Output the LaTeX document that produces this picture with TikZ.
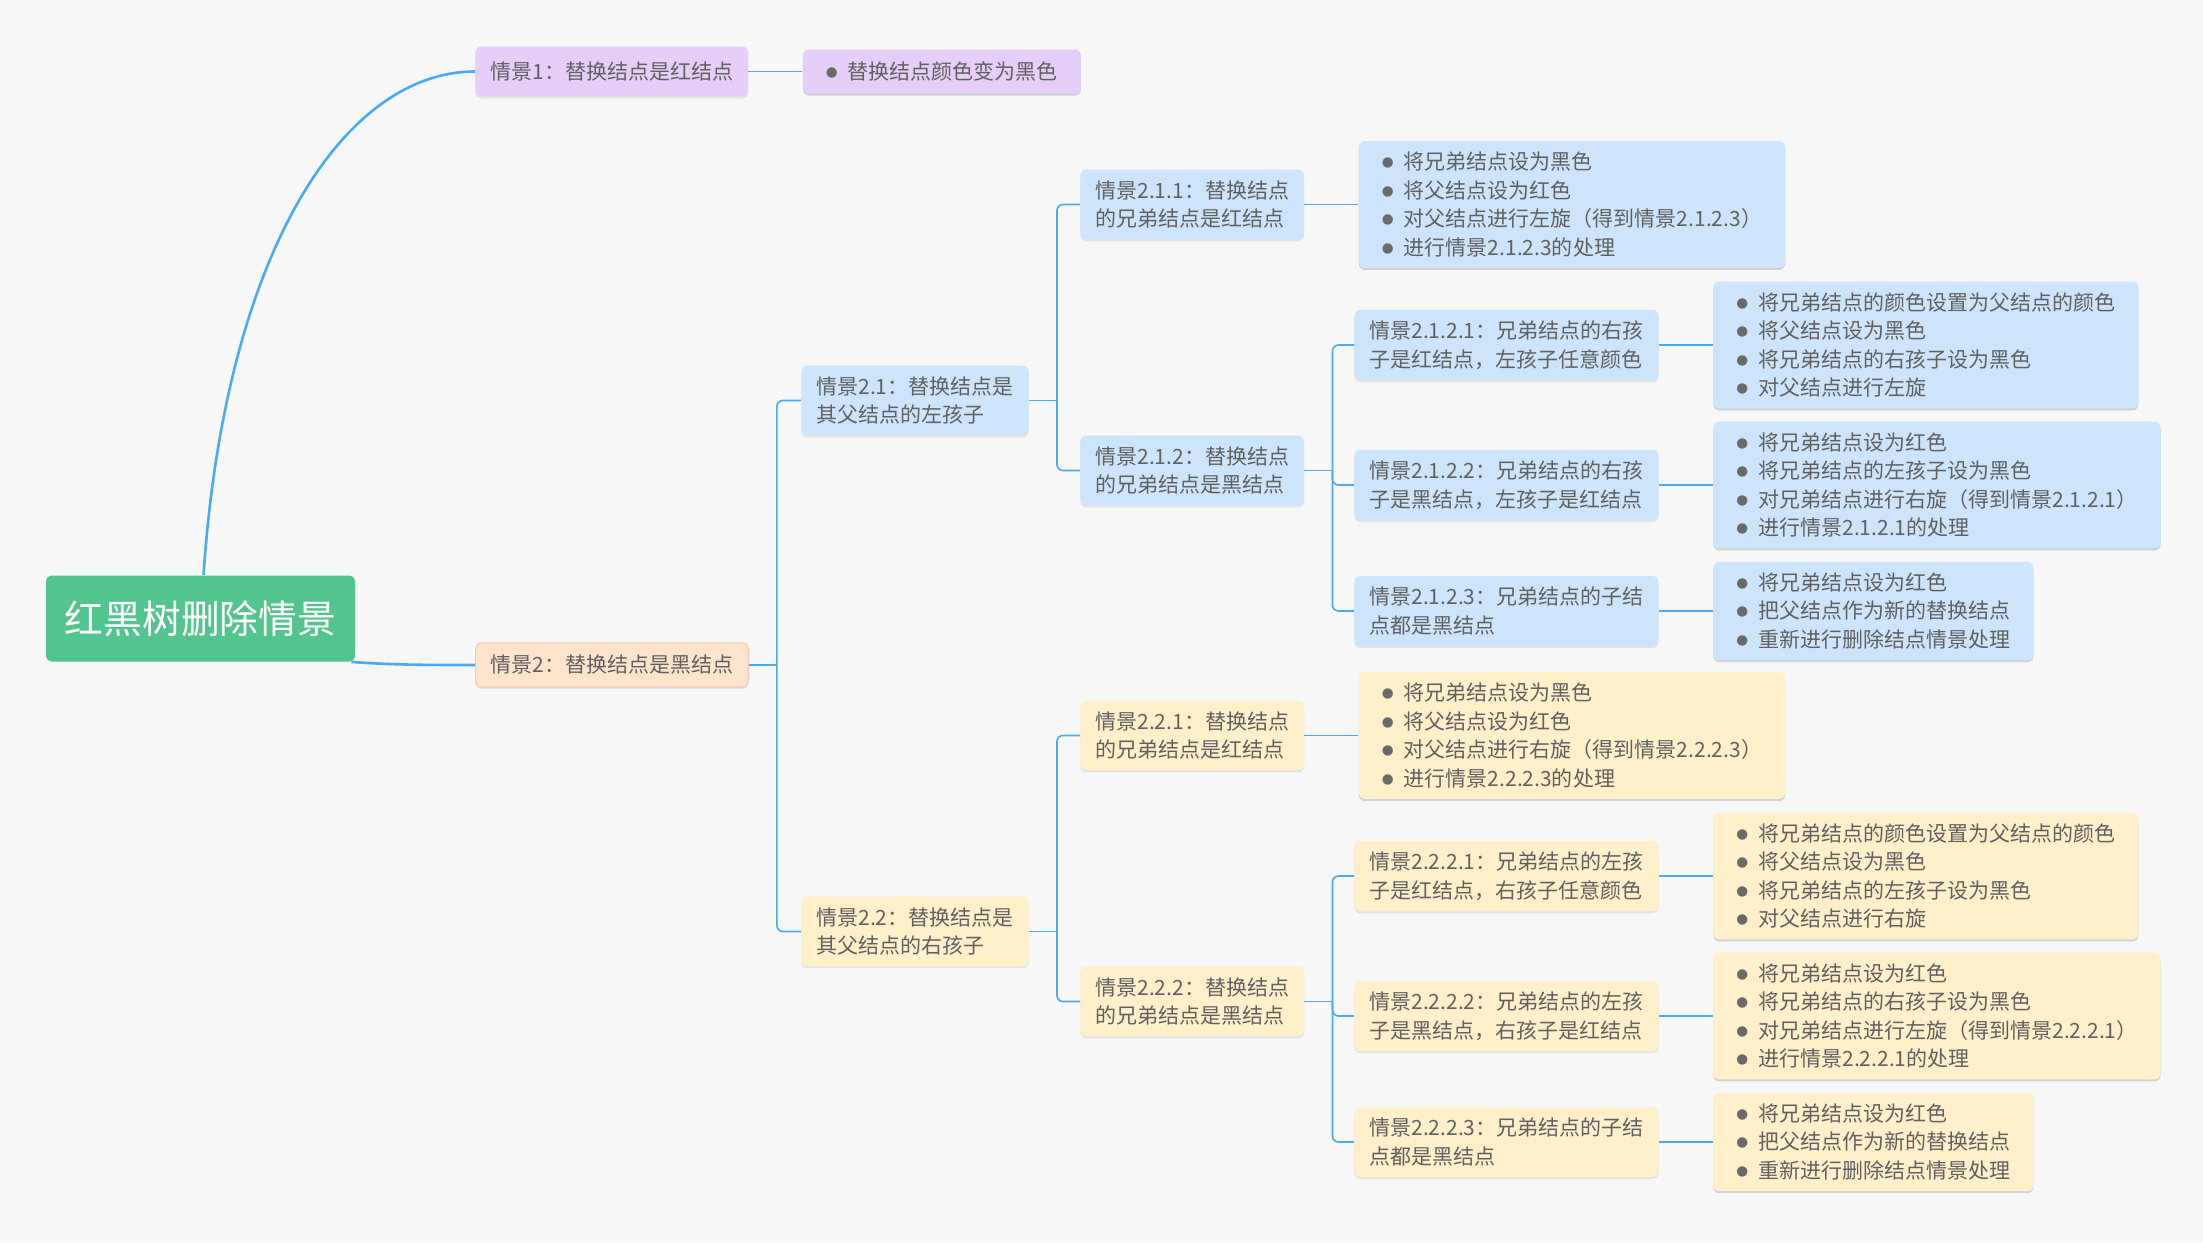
\documentclass[tikz,border=0pt]{standalone}
\usepackage{fontspec}
\setmainfont{Noto Sans CJK SC}
\newfontfamily\dotfont{DejaVu Sans}
\usetikzlibrary{positioning,shadows}

\definecolor{bggray}{HTML}{F7F7F7}
\definecolor{txtgray}{HTML}{606060}
\definecolor{dotgray}{HTML}{6A6A6A}
\definecolor{rootgreen}{HTML}{52C48E}
\definecolor{lavender}{HTML}{E6CDFA}
\definecolor{peach}{HTML}{FFE4CC}
\definecolor{peachline}{HTML}{F6C8BC}
\definecolor{skyblue}{HTML}{CCE5FC}
\definecolor{cream}{HTML}{FFF0C9}
\definecolor{linkblue}{HTML}{4AA9F5}

\newcommand\bul{\makebox[11pt][l]{\raisebox{1.6pt}{\textcolor{dotgray}{\dotfont\fontsize{6.8pt}{7pt}\selectfont ●}}}}

\begin{document}
\begin{tikzpicture}[x=0.5pt, y=-0.5pt,
  box/.style={rounded corners=3pt, inner xsep=7.5pt, inner ysep=5.5pt,
    align=left, anchor=west, text=txtgray,
    font=\fontsize{10.5pt}{14.25pt}\selectfont,
    drop shadow={shadow xshift=0pt, shadow yshift=-1pt, fill=black, opacity=.08}},
  note/.style={box, inner xsep=11.5pt},
  purplebox/.style={box, fill=lavender},
  peachbox/.style={box, fill=peach, draw=peachline, line width=0.6pt},
  bluebox/.style={box, fill=skyblue},
  yellowbox/.style={box, fill=cream},
  link/.style={draw=linkblue, line width=0.8pt, rounded corners=3pt},
  mainlink/.style={draw=linkblue, line width=1.3pt}]
  \fill[bggray] (0,0) rectangle (2203,1242);
  \useasboundingbox (0,0) rectangle (2203,1242);

  % root and first level
  \node[fill=rootgreen, rounded corners=3pt, minimum width=154.5pt, minimum height=43pt,
    text=white, font=\fontsize{19.4pt}{23pt}\selectfont] (root) at (200.5,618.5) {红黑树删除情景};
  \node[purplebox, minimum height=25pt] (s1) at (475,71.5) {情景1：替换结点是红结点};
  \node[purplebox, note, minimum height=22pt, right=27pt of s1] (n1) {\bul 替换结点颜色变为黑色};
  \node[peachbox, minimum height=22pt] (s2) at (475,665) {情景2：替换结点是黑结点};

  % left child
  \node[bluebox] (s21) at (801,400.5) {情景2.1：替换结点是\\其父结点的左孩子};
  \node[bluebox] (s211) at (1080,204.5) {情景2.1.1：替换结点\\的兄弟结点是红结点};
  \node[bluebox, note, right=27pt of s211] (n211) {\bul 将兄弟结点设为黑色\\\bul 将父结点设为红色\\\bul 对父结点进行左旋（得到情景2.1.2.3）\\\bul 进行情景2.1.2.3的处理};
  \node[bluebox] (s212) at (1080,470.5) {情景2.1.2：替换结点\\的兄弟结点是黑结点};
  \node[bluebox] (s2121) at (1354,345) {情景2.1.2.1：兄弟结点的右孩\\子是红结点，左孩子任意颜色};
  \node[bluebox, note, right=27pt of s2121] (n2121) {\bul 将兄弟结点的颜色设置为父结点的颜色\\\bul 将父结点设为黑色\\\bul 将兄弟结点的右孩子设为黑色\\\bul 对父结点进行左旋};
  \node[bluebox] (s2122) at (1354,485) {情景2.1.2.2：兄弟结点的右孩\\子是黑结点，左孩子是红结点};
  \node[bluebox, note, right=27pt of s2122] (n2122) {\bul 将兄弟结点设为红色\\\bul 将兄弟结点的左孩子设为黑色\\\bul 对兄弟结点进行右旋（得到情景2.1.2.1）\\\bul 进行情景2.1.2.1的处理};
  \node[bluebox] (s2123) at (1354,611) {情景2.1.2.3：兄弟结点的子结\\点都是黑结点};
  \node[bluebox, note, right=27pt of s2123] (n2123) {\bul 将兄弟结点设为红色\\\bul 把父结点作为新的替换结点\\\bul 重新进行删除结点情景处理};

  % right child
  \node[yellowbox] (s22) at (801,931.5) {情景2.2：替换结点是\\其父结点的右孩子};
  \node[yellowbox] (s221) at (1080,735.5) {情景2.2.1：替换结点\\的兄弟结点是红结点};
  \node[yellowbox, note, right=27pt of s221] (n221) {\bul 将兄弟结点设为黑色\\\bul 将父结点设为红色\\\bul 对父结点进行右旋（得到情景2.2.2.3）\\\bul 进行情景2.2.2.3的处理};
  \node[yellowbox] (s222) at (1080,1001.5) {情景2.2.2：替换结点\\的兄弟结点是黑结点};
  \node[yellowbox] (s2221) at (1354,876) {情景2.2.2.1：兄弟结点的左孩\\子是红结点，右孩子任意颜色};
  \node[yellowbox, note, right=27pt of s2221] (n2221) {\bul 将兄弟结点的颜色设置为父结点的颜色\\\bul 将父结点设为黑色\\\bul 将兄弟结点的左孩子设为黑色\\\bul 对父结点进行右旋};
  \node[yellowbox] (s2222) at (1354,1016) {情景2.2.2.2：兄弟结点的左孩\\子是黑结点，右孩子是红结点};
  \node[yellowbox, note, right=27pt of s2222] (n2222) {\bul 将兄弟结点设为红色\\\bul 将兄弟结点的右孩子设为黑色\\\bul 对兄弟结点进行左旋（得到情景2.2.2.1）\\\bul 进行情景2.2.2.1的处理};
  \node[yellowbox] (s2223) at (1354,1142) {情景2.2.2.3：兄弟结点的子结\\点都是黑结点};
  \node[yellowbox, note, right=27pt of s2223] (n2223) {\bul 将兄弟结点设为红色\\\bul 把父结点作为新的替换结点\\\bul 重新进行删除结点情景处理};

  % connectors
  \draw[mainlink] ([xshift=1.5pt]root.north) .. controls +(22,-326) and +(-130,0) .. (s1.west);
  \draw[mainlink] ([xshift=-2pt]root.south east) .. controls +(40,3) and +(-50,0) .. (s2.west);
  \foreach \a/\b in {s1/n1, s211/n211, s2121/n2121, s2122/n2122, s2123/n2123,
                     s221/n221, s2221/n2221, s2222/n2222, s2223/n2223}
    \draw[link] (\a.east) -- (\b.west);

  \foreach \p/\kids in {s2/{s21,s22}, s21/{s211,s212}, s212/{s2121,s2122,s2123},
                        s22/{s221,s222}, s222/{s2221,s2222,s2223}} {
    \coordinate[right=14pt of \p.east] (j\p);
    \draw[link] (\p.east) -- (j\p);
    \foreach \c in \kids
      \draw[link] (j\p) |- (\c.west);
  }
\end{tikzpicture}
\end{document}
